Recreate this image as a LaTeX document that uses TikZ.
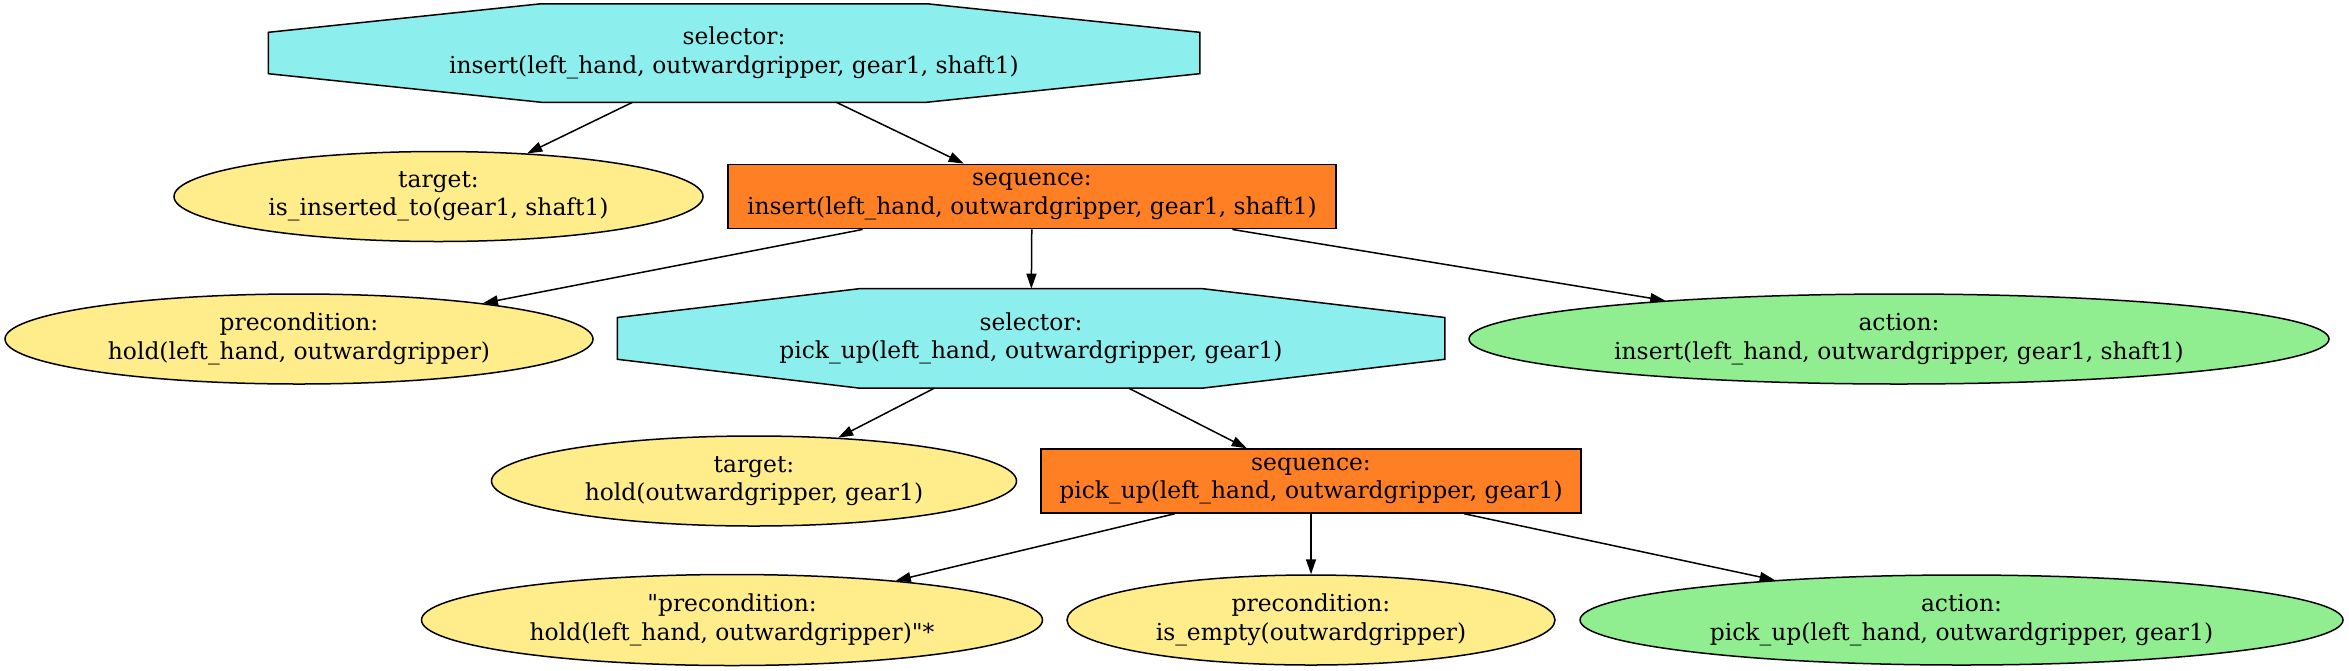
\documentclass[tikz,border=0pt]{standalone}
\usepackage{fontspec}
\setmainfont{DejaVu Serif}
\usetikzlibrary{arrows.meta,shapes.geometric,calc,backgrounds}
\definecolor{selcol}{HTML}{8DEEEE}
\definecolor{seqcol}{HTML}{FF7F24}
\definecolor{condcol}{HTML}{FFEC8B}
\definecolor{actcol}{HTML}{90EE90}
\newcommand{\drawocta}[1]{%
  \draw[fill=selcol, line width=0.75pt]
    ($(#1.north west)!0.2929!(#1.north east)$) --
    ($(#1.north west)!0.7071!(#1.north east)$) --
    ($(#1.north east)!0.29!(#1.south east)$) --
    ($(#1.north east)!0.71!(#1.south east)$) --
    ($(#1.south east)!0.2929!(#1.south west)$) --
    ($(#1.south east)!0.7071!(#1.south west)$) --
    ($(#1.south west)!0.29!(#1.north west)$) --
    ($(#1.south west)!0.71!(#1.north west)$) -- cycle;}
\begin{document}
\begin{tikzpicture}[x=0.5pt,y=-0.5pt,
  every node/.style={font=\fontsize{11.7}{14.2}\selectfont, align=center, inner sep=0pt, line width=0.75pt},
  selbox/.style={rectangle, draw=none},
  seqbox/.style={rectangle, draw=black, fill=seqcol},
  condell/.style={ellipse, draw=black, fill=condcol},
  actell/.style={ellipse, draw=black, fill=actcol},
  link/.style={-{Triangle[length=7.5pt,width=5pt]}, line width=0.75pt}]
\useasboundingbox (0,0) rectangle (2349,670);

\node[selbox, minimum width=465pt, minimum height=48.5pt] (sel1) at (734,53)
  {selector:\\insert(left\_hand, outwardgripper, gear1, shaft1)};
\node[condell, minimum width=264.5pt, minimum height=45pt] (tgt1) at (438.5,196.5)
  {target:\\is\_inserted\_to(gear1, shaft1)};
\node[seqbox, minimum width=304pt, minimum height=32.2pt] (seq1) at (1032,196.5)
  {sequence:\\insert(left\_hand, outwardgripper, gear1, shaft1)};
\node[condell, minimum width=294pt, minimum height=45pt] (pre1) at (299,339)
  {precondition:\\hold(left\_hand, outwardgripper)};
\node[selbox, minimum width=413pt, minimum height=49pt] (sel2) at (1031,338.4)
  {selector:\\pick\_up(left\_hand, outwardgripper, gear1)};
\node[actell, minimum width=430pt, minimum height=45pt] (act1) at (1899,339)
  {action:\\insert(left\_hand, outwardgripper, gear1, shaft1)};
\node[condell, minimum width=262.5pt, minimum height=45pt] (tgt2) at (754,481)
  {target:\\hold(outwardgripper, gear1)};
\node[seqbox, minimum width=270pt, minimum height=32pt] (seq2) at (1311,481)
  {sequence:\\pick\_up(left\_hand, outwardgripper, gear1)};
\node[condell, minimum width=310.5pt, minimum height=45.5pt] (pre2a) at (732,620)
  {\textquotedbl precondition:\\hold(left\_hand, outwardgripper)\textquotedbl*};
\node[condell, minimum width=244pt, minimum height=45pt] (pre2b) at (1311,620)
  {precondition:\\is\_empty(outwardgripper)};
\node[actell, minimum width=381.5pt, minimum height=45pt] (act2) at (1961.5,620)
  {action:\\pick\_up(left\_hand, outwardgripper, gear1)};

\begin{scope}[on background layer]
\drawocta{sel1}
\drawocta{sel2}
\end{scope}

\draw[link] (sel1) -- (tgt1);
\draw[link] (sel1) -- (seq1);
\draw[link] (seq1) -- (pre1);
\draw[link] (seq1) -- (sel2);
\draw[link] (seq1) -- (act1);
\draw[link] (sel2) -- (tgt2);
\draw[link] (sel2) -- (seq2);
\draw[link] (seq2) -- (pre2a);
\draw[link] (seq2) -- (pre2b);
\draw[link] (seq2) -- (act2);
\end{tikzpicture}
\end{document}
